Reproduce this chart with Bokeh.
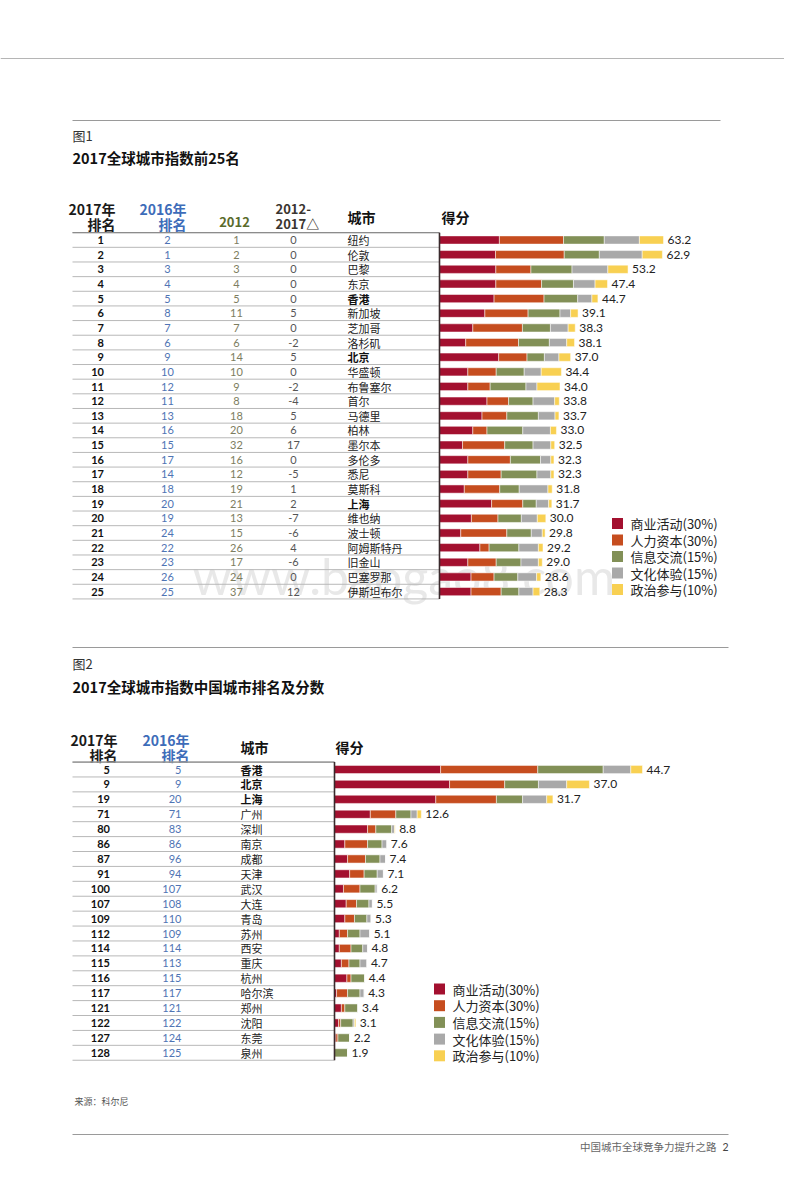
from bokeh.plotting import figure
from bokeh.models import ColumnDataSource, Range1d
from bokeh.layouts import column
from bokeh.embed import file_html
from bokeh.resources import INLINE
from bokeh.core.properties import value

# ---------------- data ----------------
CATS = ["商业活动(30%)", "人力资本(30%)", "信息交流(15%)", "文化体验(15%)", "政治参与(10%)"]
COLORS = ["#A3102F", "#C64D1F", "#829057", "#A9A9A9", "#F8D052"]
BOLD_CITIES = ["香港", "北京", "上海"]

# Figure 1: top 25
rank17_1 = list(range(1, 26))
rank16_1 = [2, 1, 3, 4, 5, 8, 7, 6, 9, 10, 12, 11, 13, 16, 15, 17, 14, 18, 20, 19, 24, 22, 23, 26, 25]
rank12_1 = [1, 2, 3, 4, 5, 11, 7, 6, 14, 10, 9, 8, 18, 20, 32, 16, 12, 19, 21, 13, 15, 26, 17, 24, 37]
delta_1 = [0, 0, 0, 0, 0, 5, 0, -2, 5, 0, -2, -4, 5, 6, 17, 0, -5, 1, 2, -7, -6, 4, -6, 0, 12]
cities_1 = ["纽约", "伦敦", "巴黎", "东京", "香港", "新加坡", "芝加哥", "洛杉矶", "北京", "华盛顿",
            "布鲁塞尔", "首尔", "马德里", "柏林", "墨尔本", "多伦多", "悉尼", "莫斯科", "上海", "维也纳",
            "波士顿", "阿姆斯特丹", "旧金山", "巴塞罗那", "伊斯坦布尔"]
score_1 = [63.2, 62.9, 53.2, 47.4, 44.7, 39.1, 38.3, 38.1, 37.0, 34.4, 34.0, 33.8, 33.7, 33.0, 32.5,
           32.3, 32.3, 31.8, 31.7, 30.0, 29.8, 29.2, 29.0, 28.6, 28.3]
biz_1 = [16.9, 15.8, 15.9, 15.9, 15.4, 12.8, 9.4, 7.4, 16.7, 8.0, 8.0, 13.4, 12.0, 9.4, 6.5, 8.0, 8.0,
         7.0, 14.7, 9.0, 6.0, 11.4, 8.0, 8.9, 8.9]
hum_1 = [18.1, 19.4, 9.9, 12.9, 14.1, 12.2, 14.0, 14.9, 8.0, 8.0, 6.3, 6.1, 7.0, 4.0, 11.9, 12.0, 9.4,
         10.0, 8.8, 7.5, 13.0, 2.6, 8.0, 6.5, 8.5]
info_1 = [11.5, 9.9, 11.6, 9.0, 9.5, 9.0, 7.9, 8.7, 4.9, 7.9, 10.1, 6.9, 8.9, 10.1, 8.0, 8.5, 10.1,
          5.5, 3.8, 6.6, 6.9, 8.4, 7.0, 6.7, 5.0]
cult_1 = [9.9, 12.1, 10.1, 6.1, 4.0, 3.0, 5.0, 4.9, 4.1, 4.8, 3.1, 6.1, 4.7, 7.8, 5.0, 2.9, 3.9, 8.1,
          3.5, 4.5, 3.1, 5.5, 4.9, 5.3, 4.0]
pol_1 = [6.8, 5.7, 5.7, 3.5, 1.7, 2.1, 2.0, 2.2, 3.3, 5.7, 6.5, 1.3, 1.1, 1.7, 1.1, 0.9, 0.9, 1.2, 0.9,
         2.4, 0.8, 1.3, 1.1, 1.2, 1.9]

# Figure 2: Chinese cities
rank17_2 = [5, 9, 19, 71, 80, 86, 87, 91, 100, 107, 109, 112, 114, 115, 116, 117, 121, 122, 127, 128]
rank16_2 = [5, 9, 20, 71, 83, 86, 96, 94, 107, 108, 110, 109, 114, 113, 115, 117, 121, 122, 124, 125]
cities_2 = ["香港", "北京", "上海", "广州", "深圳", "南京", "成都", "天津", "武汉", "大连",
            "青岛", "苏州", "西安", "重庆", "杭州", "哈尔滨", "郑州", "沈阳", "东莞", "泉州"]
score_2 = [44.7, 37.0, 31.7, 12.6, 8.8, 7.6, 7.4, 7.1, 6.2, 5.5, 5.3, 5.1, 4.8, 4.7, 4.4, 4.3, 3.4,
           3.1, 2.2, 1.9]
biz_2 = [15.4, 16.7, 14.7, 5.2, 4.8, 1.5, 1.9, 2.2, 1.3, 1.7, 1.5, 0.7, 0.7, 1.0, 1.8, 0.3, 1.0, 0.6, 0.2, 0.0]
hum_2 = [14.1, 8.0, 8.8, 3.7, 1.2, 3.3, 2.6, 2.1, 2.4, 1.5, 1.4, 1.2, 1.7, 1.1, 0.6, 1.6, 0.5, 0.3, 0.3, 0.0]
info_2 = [9.5, 4.9, 3.8, 2.2, 2.3, 2.1, 2.1, 1.9, 2.2, 1.8, 1.8, 1.8, 1.7, 1.6, 2.0, 1.8, 1.9, 1.8, 1.7, 1.9]
cult_2 = [4.0, 4.1, 3.5, 0.9, 0.4, 0.7, 0.8, 0.9, 0.3, 0.5, 0.6, 1.4, 0.7, 1.0, 0.0, 0.6, 0.0, 0.2, 0.0, 0.0]
pol_2 = [1.7, 3.3, 0.9, 0.6, 0.1, 0.0, 0.0, 0.0, 0.0, 0.0, 0.0, 0.0, 0.0, 0.0, 0.0, 0.0, 0.0, 0.2, 0.0, 0.0]

STACK = ["biz", "hum", "info", "cult", "pol"]

# ---------------- layout constants (page pixels) ----------------
CJK = value("Noto Sans CJK SC")
NUM = value("Lato")

W = 784
H1 = 632
H2 = 531

S1, X01, R1Y, P1 = 3.544, 439.0, 239.5, 14.65
S2, X02, R2Y, P2 = 6.89, 334.0, 769.0, 14.91


def fx1(x):
    return (x - X01) / S1


def fy1(y):
    return 1 + (y - R1Y) / P1


def fx2(x):
    return (x - X02) / S2


def fy2(y):
    return 1 + (y - R2Y) / P2


def make_fig(h, fx, fy, ytop, ybot):
    p = figure(width=W, height=h, toolbar_location=None, output_backend="svg",
               x_range=Range1d(fx(0), fx(W)), y_range=Range1d(fy(ybot), fy(ytop)),
               x_axis_location=None, y_axis_location=None, min_border=0,
               outline_line_color=None, background_fill_color="white",
               border_fill_color="white")
    p.grid.visible = False
    return p


def txt(p, x, y, t, size, color="#222222", style="normal", align="left", font=CJK, alpha=1.0):
    p.text(x=x, y=y, text=t, text_font=font, text_font_size=size, text_color=color,
           text_font_style=style, text_align=align, text_baseline="middle", text_alpha=alpha)


def hline(p, x0, x1, y, color, width=1.0):
    p.segment(x0=x0, y0=y, x1=x1, y1=y, line_color=color, line_width=width)


# ================= Figure 1 =================
p1 = make_fig(H1, fx1, fy1, 0, H1)

hline(p1, [fx1(0)], [fx1(800)], [fy1(58)], "#b5b5b5", 1.0)
hline(p1, [fx1(72)], [fx1(720)], [fy1(120)], "#9a9a9a", 1.0)
txt(p1, [fx1(72)], [fy1(135)], ["图1"], "13px", "#333333")
txt(p1, [fx1(72)], [fy1(157)], ["2017全球城市指数前25名"], "14.5px", "#111111", "bold")

txt(p1, [fx1(115), fx1(115)], [fy1(208), fy1(223)], ["2017年", "排名"], "14px", "#1a1a1a", "bold", "right")
txt(p1, [fx1(186), fx1(186)], [fy1(208), fy1(223)], ["2016年", "排名"], "14px", "#3D6CB9", "bold", "right")
txt(p1, [fx1(234)], [fy1(221)], ["2012"], "13px", "#5A6B2B", "bold", "center")
txt(p1, [fx1(275), fx1(275)], [fy1(208), fy1(223)], ["2012-", "2017△"], "13px", "#3a3530", "bold")
txt(p1, [fx1(347)], [fy1(216)], ["城市"], "14px", "#111111", "bold")
txt(p1, [fx1(441)], [fy1(216)], ["得分"], "14px", "#111111", "bold")

n1 = len(cities_1)
rows1 = [i + 1 for i in range(n1)]
src1 = ColumnDataSource(dict(row=rows1, biz=biz_1, hum=hum_1, info=info_1, cult=cult_1, pol=pol_1,
                             score=score_1, lab=[f"{v:.1f}" for v in score_1],
                             r17=[str(v) for v in rank17_1], r16=[str(v) for v in rank16_1],
                             r12=[str(v) for v in rank12_1], d=[str(v) for v in delta_1],
                             city=cities_1))

# watermark (behind)
txt(p1, [fx1(192)], [fy1(575)], ["www.baogao8.com"], "50px", "#bdbdbd", font=NUM, alpha=0.35)

# row separators
seps1 = [r + 0.5 for r in range(n1 + 1)]
hline(p1, [fx1(72)] * len(seps1), [0] * len(seps1), seps1, "#b8b8b8", 1.0)
hline(p1, [fx1(72)], [0], [0.5], "#8c8c8c", 1.2)

p1.hbar_stack(STACK, y="row", height=0.56, color=COLORS, source=src1, line_color="white", line_width=0.5)
p1.segment(x0=[0], y0=[0.5], x1=[0], y1=[n1 + 0.5], line_color="#3a2a2c", line_width=1.6)

p1.text(x="score", y="row", text="lab", source=src1, x_offset=4, text_font=NUM, text_font_size="12px",
        text_color="#222222", text_baseline="middle")

p1.text(x=fx1(103.5), y="row", text="r17", source=src1, text_font=NUM, text_font_size="11px",
        text_font_style="bold", text_color="#111111", text_align="right", text_baseline="middle")
p1.text(x=fx1(167), y="row", text="r16", source=src1, text_font=NUM, text_font_size="11px",
        text_color="#4f74b4", text_align="center", text_baseline="middle")
p1.text(x=fx1(236), y="row", text="r12", source=src1, text_font=NUM, text_font_size="11px",
        text_color="#7d7d60", text_align="center", text_baseline="middle")
p1.text(x=fx1(293), y="row", text="d", source=src1, text_font=NUM, text_font_size="11px",
        text_color="#555555", text_align="center", text_baseline="middle")

reg1 = [i for i, c in enumerate(cities_1) if c not in BOLD_CITIES]
bold1 = [i for i, c in enumerate(cities_1) if c in BOLD_CITIES]
txt(p1, [fx1(347)] * len(reg1), [rows1[i] for i in reg1], [cities_1[i] for i in reg1], "11px", "#222222")
txt(p1, [fx1(347)] * len(bold1), [rows1[i] for i in bold1], [cities_1[i] for i in bold1], "11px",
    "#111111", "bold")

# legend 1
ly1 = [fy1(523 + i * 16.5) for i in range(len(CATS))]
p1.scatter(x=[fx1(617)] * len(CATS), y=ly1, marker="square", size=11, color=COLORS, line_color=None)
txt(p1, [fx1(630)] * len(CATS), ly1, CATS, "13px", "#222222")

# ================= Figure 2 =================
p2 = make_fig(H2, fx2, fy2, H1, H1 + H2)

hline(p2, [fx2(72)], [fx2(728)], [fy2(647)], "#9a9a9a", 1.0)
txt(p2, [fx2(72)], [fy2(663)], ["图2"], "13px", "#333333")
txt(p2, [fx2(72)], [fy2(686)], ["2017全球城市指数中国城市排名及分数"], "14.5px", "#111111", "bold")

txt(p2, [fx2(117), fx2(117)], [fy2(739), fy2(754)], ["2017年", "排名"], "14px", "#1a1a1a", "bold", "right")
txt(p2, [fx2(189), fx2(189)], [fy2(739), fy2(754)], ["2016年", "排名"], "14px", "#3D6CB9", "bold", "right")
txt(p2, [fx2(240)], [fy2(746)], ["城市"], "14px", "#111111", "bold")
txt(p2, [fx2(335)], [fy2(746)], ["得分"], "14px", "#111111", "bold")

n2 = len(cities_2)
rows2 = [i + 1 for i in range(n2)]
src2 = ColumnDataSource(dict(row=rows2, biz=biz_2, hum=hum_2, info=info_2, cult=cult_2, pol=pol_2,
                             score=score_2, lab=[f"{v:.1f}" for v in score_2],
                             r17=[str(v) for v in rank17_2], r16=[str(v) for v in rank16_2],
                             city=cities_2))

seps2 = [r + 0.5 for r in range(n2 + 1)]
hline(p2, [fx2(72)] * len(seps2), [0] * len(seps2), seps2, "#b8b8b8", 1.0)
hline(p2, [fx2(72)], [0], [0.5], "#8c8c8c", 1.2)

p2.hbar_stack(STACK, y="row", height=0.55, color=COLORS, source=src2, line_color="white", line_width=0.5)
p2.segment(x0=[0], y0=[0.5], x1=[0], y1=[n2 + 0.5], line_color="#3a2a2c", line_width=1.6)

p2.text(x="score", y="row", text="lab", source=src2, x_offset=4, text_font=NUM, text_font_size="12px",
        text_color="#222222", text_baseline="middle")
p2.text(x=fx2(109.5), y="row", text="r17", source=src2, text_font=NUM, text_font_size="11px",
        text_font_style="bold", text_color="#111111", text_align="right", text_baseline="middle")
p2.text(x=fx2(181), y="row", text="r16", source=src2, text_font=NUM, text_font_size="11px",
        text_color="#4f74b4", text_align="right", text_baseline="middle")

reg2 = [i for i, c in enumerate(cities_2) if c not in BOLD_CITIES]
bold2 = [i for i, c in enumerate(cities_2) if c in BOLD_CITIES]
txt(p2, [fx2(240)] * len(reg2), [rows2[i] for i in reg2], [cities_2[i] for i in reg2], "11px", "#222222")
txt(p2, [fx2(240)] * len(bold2), [rows2[i] for i in bold2], [cities_2[i] for i in bold2], "11px",
    "#111111", "bold")

ly2 = [fy2(988.5 + i * 16.7) for i in range(len(CATS))]
p2.scatter(x=[fx2(439)] * len(CATS), y=ly2, marker="square", size=11, color=COLORS, line_color=None)
txt(p2, [fx2(452)] * len(CATS), ly2, CATS, "13px", "#222222")

txt(p2, [fx2(74)], [fy2(1101)], ["来源：科尔尼"], "9px", "#555555")
hline(p2, [fx2(72)], [fx2(728)], [fy2(1134)], "#9a9a9a", 1.0)
txt(p2, [fx2(716)], [fy2(1146)], ["中国城市全球竞争力提升之路"], "10.5px", "#666666", align="right")
txt(p2, [fx2(722)], [fy2(1146)], ["2"], "10.5px", "#444444", font=NUM)

layout = column(p1, p2, spacing=0)
open("out.html", "w").write(file_html(layout, INLINE))
